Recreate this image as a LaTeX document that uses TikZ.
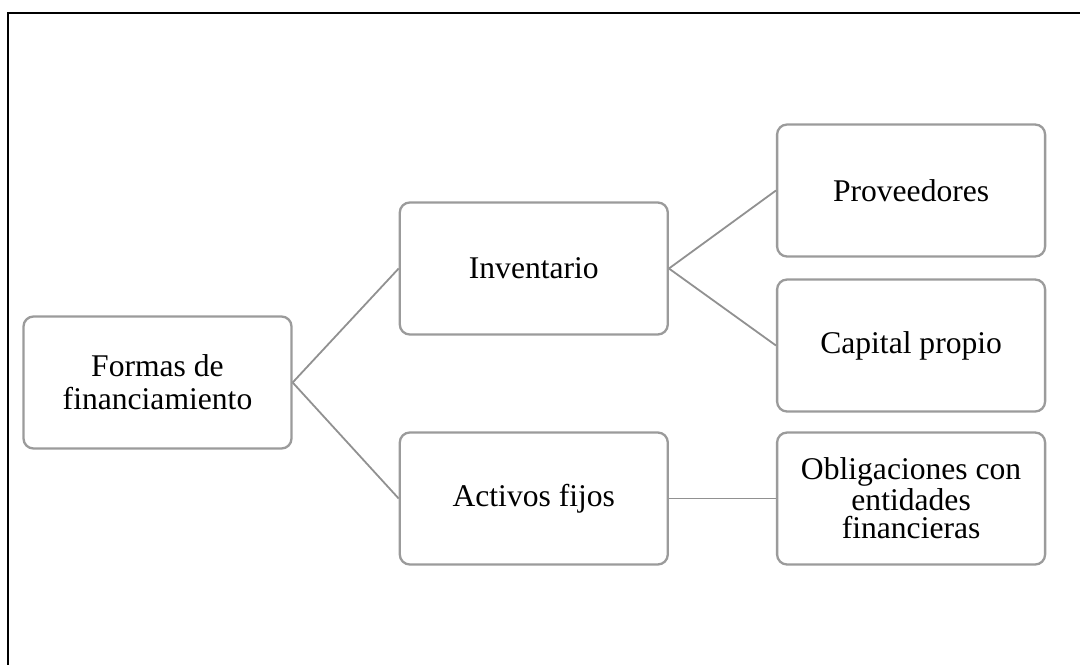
\documentclass[tikz,border=0pt]{standalone}
\usepackage{fontspec}
\setmainfont{Liberation Serif}
\usepackage{tikz}
\usetikzlibrary{positioning}
\definecolor{boxgray}{RGB}{155,155,155}
\definecolor{linegray}{RGB}{145,145,145}

\begin{document}
\begin{tikzpicture}[x=0.5pt, y=-0.5pt,
    box/.style={draw=boxgray, line width=1.15pt, rounded corners=5pt, fill=white, minimum width=134pt, minimum height=66pt, inner sep=2pt, align=center, font=\fontsize{15.8pt}{16.5pt}\selectfont},
    tight/.style={font=\fontsize{15.8pt}{14pt}\selectfont},
    link/.style={draw=linegray, line width=0.9pt}
]
    \useasboundingbox (0,0) rectangle (1080,664);
    \draw[line width=0.85pt] (8,13) rectangle (1100,700);

    \node[box] (formas) at (157.5,382.5) {Formas de\\financiamiento};
    \node[box, right=53pt of formas, yshift=57pt] (inv) {Inventario};
    \node[box, right=53pt of formas, yshift=-58pt] (act) {Activos fijos};
    \node[box, right=53.5pt of inv, yshift=39pt] (prov) {Proveedores};
    \node[box, right=53.5pt of inv, yshift=-38.5pt] (cap) {Capital propio};
    \node[box, tight, right=53.5pt of act] (obl) {Obligaciones con\\entidades\\financieras};

    \draw[link] (formas.east) -- (inv.west);
    \draw[link] (formas.east) -- (act.west);
    \draw[link] (inv.east) -- (prov.west);
    \draw[link] (inv.east) -- (cap.west);
    \draw[link] (act.east) -- (obl.west);
\end{tikzpicture}
\end{document}
